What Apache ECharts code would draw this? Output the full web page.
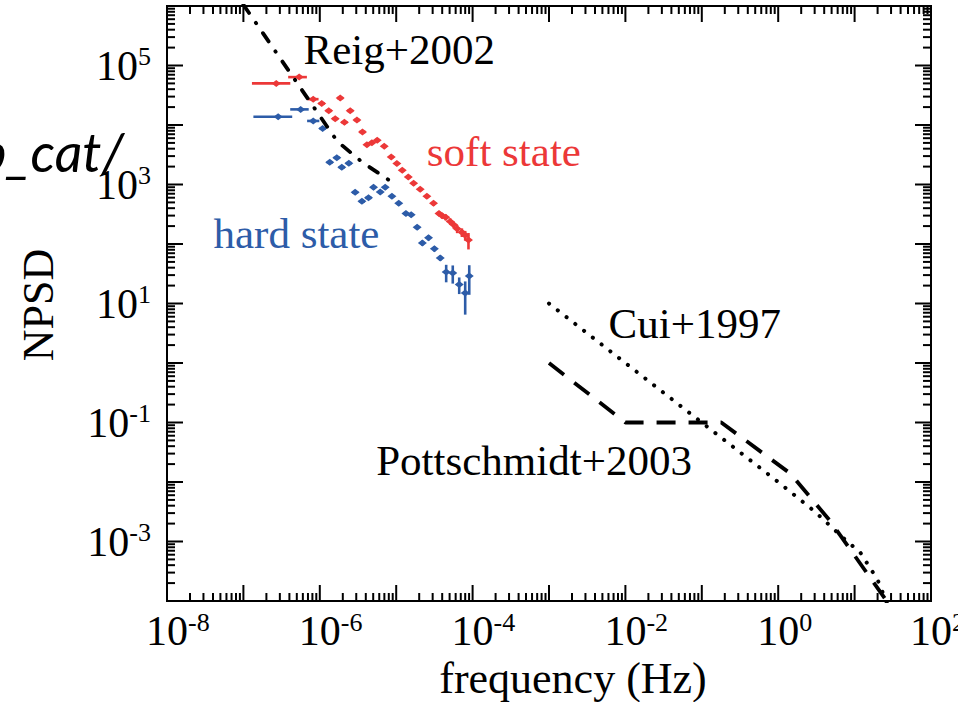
<!DOCTYPE html>
<html>
<head>
<meta charset="utf-8">
<script src="https://cdn.jsdelivr.net/npm/echarts@6/dist/echarts.min.js"></script>
<style>html,body{margin:0;padding:0;background:#fff}#c{width:958px;height:702px}</style>
</head>
<body>
<div id="c"></div>
<script>
// ---------------- data ----------------
// axis tick labels (exponents of 10 that carry a label)
const xTickExps = [-8, -6, -4, -2, 0, 2];
const yTickExps = [-3, -1, 1, 3, 5];
const xDecades = [-8, -7, -6, -5, -4, -3, -2, -1, 0, 1, 2];
const yDecades = [-4, -3, -2, -1, 0, 1, 2, 3, 4, 5, 6];
const minorMultipliers = [2, 3, 4, 5, 6, 7, 8, 9];

// soft state (red): frequency (Hz), NPSD, freq bin half-widths (dex, low/high), NPSD error (linear)
const softFreq = [2.69e-7, 5.37e-7, 8.2e-7, 1.06e-6, 1.31e-6, 1.59e-6, 1.85e-6, 2.10e-6, 2.50e-6, 3.06e-6,
  3.62e-6, 4.14e-6, 4.81e-6, 5.64e-6, 6.97e-6, 8.61e-6, 1.02e-5, 1.20e-5, 1.44e-5, 1.69e-5,
  2.06e-5, 2.52e-5, 3.08e-5, 3.63e-5, 4.0e-5, 4.45e-5, 5.09e-5, 5.66e-5, 6.28e-5, 7.24e-5, 8.0e-5, 8.83e-5];
const softNpsd = [5.0e4, 6.38e4, 2.72e4, 2.30e4, 1.73e4, 1.27e4, 2.83e4, 1.11e4, 1.73e4, 1.21e4,
  7.65e3, 4.66e3, 5.04e3, 5.55e3, 4.40e3, 2.90e3, 2.25e3, 1.73e3, 1.34e3, 1.05e3,
  830, 633, 483, 327, 297, 281, 240, 210, 180, 157, 140, 117];
const softDfLo = [0.318, 0.144, 0.07, 0.04, 0.04, 0.04, 0.04, 0.04, 0.04, 0.04,
  0.04, 0.03, 0.03, 0.03, 0.03, 0.03, 0.03, 0.03, 0.03, 0.03,
  0.03, 0.03, 0.03, 0.03, 0.03, 0.03, 0.03, 0.03, 0.03, 0.02, 0.02, 0.02];
const softDfHi = [0.184, 0.101, 0.07, 0.04, 0.04, 0.04, 0.04, 0.04, 0.04, 0.04,
  0.04, 0.03, 0.03, 0.03, 0.03, 0.03, 0.03, 0.03, 0.03, 0.03,
  0.03, 0.03, 0.03, 0.03, 0.03, 0.03, 0.03, 0.03, 0.03, 0.02, 0.02, 0.02];
const softErr = [0, 0, 2000, 1800, 1400, 1000, 2200, 900, 1400, 1000,
  600, 380, 400, 450, 350, 230, 180, 140, 110, 85,
  70, 55, 42, 30, 30, 32, 30, 28, 28, 26, 26, 36];

// hard state (blue)
const hardFreq = [2.85e-7, 5.62e-7, 8.2e-7, 1.09e-6, 1.35e-6, 1.67e-6, 1.94e-6, 2.40e-6, 2.90e-6, 3.56e-6,
  4.34e-6, 5.05e-6, 6.18e-6, 7.18e-6, 8.79e-6, 1.08e-5, 1.34e-5, 1.57e-5, 1.88e-5, 2.20e-5,
  2.65e-5, 3.16e-5, 3.77e-5, 4.51e-5, 5.5e-5, 6.68e-5, 8.0e-5, 9.04e-5];
const hardNpsd = [1.38e4, 1.83e4, 1.17e4, 8.73e3, 2.36e3, 2.81e3, 1.95e3, 2.28e3, 739, 521,
  597, 897, 748, 897, 633, 483, 324, 309, 192, 104,
  127, 83, 58, 33.7, 32.6, 20.9, 15.0, 29.0];
const hardDfLo = [0.324, 0.137, 0.08, 0.04, 0.04, 0.04, 0.04, 0.04, 0.04, 0.04,
  0.04, 0.03, 0.03, 0.03, 0.03, 0.03, 0.03, 0.03, 0.03, 0.03,
  0.03, 0.03, 0.03, 0.02, 0.02, 0.02, 0.02, 0.02];
const hardDfHi = [0.184, 0.105, 0.08, 0.04, 0.04, 0.04, 0.04, 0.04, 0.04, 0.04,
  0.04, 0.03, 0.03, 0.03, 0.03, 0.03, 0.03, 0.03, 0.03, 0.03,
  0.03, 0.03, 0.03, 0.02, 0.02, 0.02, 0.02, 0.02];
const hardErr = [0, 0, 900, 700, 190, 220, 160, 180, 60, 42,
  48, 72, 60, 72, 50, 40, 27, 26, 17, 10,
  12, 8, 6, 11, 11, 6.5, 8.5, 15];

// model curves
const reigFreq = [1.0e-7, 5.06e-7, 1.69e-6, 3.59e-6, 8.87e-6];
const reigNpsd = [1.05e6, 5.06e4, 5.33e3, 2.37e3, 1.09e3];
const cuiFreq = [1.0e-3, 1.0, 3.0, 7.1, 11.9, 19.9, 25.1, 31.6];
const cuiNpsd = [10, 1.0e-2, 3.2e-3, 1.15e-3, 6.5e-4, 2.3e-4, 1.1e-4, 5.4e-5];
const pottFreq = [1.0e-3, 1.0e-2, 0.18, 1.45, 4.8, 26.3, 32.0];
const pottNpsd = [1.0, 0.1, 0.1, 1.38e-2, 2.2e-3, 1.0e-4, 6.0e-5];

// annotations: text, anchor frequency, anchor NPSD (left / vertical middle)
const annoText = ['Reig+2002', 'soft state', 'hard state', 'Cui+1997', 'Pottschmidt+2003'];
const annoFreq = [6.12e-7, 2.52e-5, 4.06e-8, 6.01e-3, 5.47e-6];
const annoNpsd = [1.89e5, 3.62e3, 153, 4.66, 0.0234];

// ---------------- chart ----------------
const RED = '#EC3838', BLUE = '#2D5CA8';
const SERIF = "'Liberation Serif', 'Times New Roman', serif";
const chart = echarts.init(document.getElementById('c'), null, {renderer: 'svg'});

function pairs(a, b) { return a.map((v, i) => [v, b[i]]); }
function pointData(f, v, lo, hi, e) { return f.map((x, i) => [x, v[i], lo[i], hi[i], e[i]]); }

function renderPoint(color) {
  return function (params, api) {
    const f = api.value(0), v = api.value(1), dlo = api.value(2), dhi = api.value(3), sig = api.value(4);
    const cs = params.coordSys;
    const c = api.coord([f, v]);
    const l = api.coord([f / Math.pow(10, dlo), v]);
    const r = api.coord([f * Math.pow(10, dhi), v]);
    const st = {stroke: color, lineWidth: 2.6};
    const children = [];
    children.push({type: 'line', shape: {x1: l[0], y1: c[1], x2: r[0], y2: c[1]}, style: st});
    if (sig > 0) {
      const t = api.coord([f, v + sig]);
      const lowV = v - sig;
      const b = lowV > 0 ? api.coord([f, lowV]) : [c[0], cs.y + cs.height];
      children.push({type: 'line', shape: {x1: c[0], y1: t[1], x2: c[0], y2: b[1]}, style: st});
    }
    children.push({type: 'polygon', shape: {points: [[c[0] - 4.5, c[1]], [c[0], c[1] - 3.5], [c[0] + 4.5, c[1]], [c[0], c[1] + 3.5]]},
      style: {fill: color}});
    return {type: 'group', children};
  };
}

// tick marks (log major + minor) drawn on all four sides
const tickData = [];
xDecades.forEach(d => {
  tickData.push([Math.pow(10, d), 1, 0, 16]);
  if (d < 2) minorMultipliers.forEach(m => tickData.push([m * Math.pow(10, d), 1, 0, 8]));
});
yDecades.forEach(d => {
  tickData.push([1, Math.pow(10, d), 1, 16]);
  if (d < 6) minorMultipliers.forEach(m => tickData.push([1, m * Math.pow(10, d), 1, 8]));
});
function renderTick(params, api) {
  const cs = params.coordSys;
  const kind = api.value(2), len = api.value(3);
  const p = api.coord([api.value(0), api.value(1)]);
  const st = {stroke: '#000', lineWidth: 2};
  if (kind === 0) {
    const x = p[0], yb = cs.y + cs.height, yt = cs.y;
    return {type: 'group', children: [
      {type: 'line', shape: {x1: x, y1: yb, x2: x, y2: yb - len}, style: st},
      {type: 'line', shape: {x1: x, y1: yt, x2: x, y2: yt + len}, style: st}]};
  }
  const y = p[1], xl = cs.x, xr = cs.x + cs.width;
  return {type: 'group', children: [
    {type: 'line', shape: {x1: xl, y1: y, x2: xl + len, y2: y}, style: st},
    {type: 'line', shape: {x1: xr, y1: y, x2: xr - len, y2: y}, style: st}]};
}

const richLabel = {
  b: {fontFamily: SERIF, fontSize: 42, fill: '#000', color: '#000', lineHeight: 44},
  s: {fontFamily: SERIF, fontSize: 26, fill: '#000', color: '#000', verticalAlign: 'top', lineHeight: 44},
  sp: {fontFamily: SERIF, fontSize: 26, fill: 'rgba(0,0,0,0)', color: 'rgba(0,0,0,0)', lineHeight: 44}
};

// x tick labels: "10" centred on the tick, exponent hanging to the right
const xLabelData = xTickExps.map(e => [Math.pow(10, e), 1e-4, e]);
function renderXLabel(params, api) {
  const cs = params.coordSys;
  const e = api.value(2);
  const p = api.coord([api.value(0), api.value(1)]);
  return {type: 'text', x: p[0], y: cs.y + cs.height + 8,
    style: {text: '{sp|' + e + '}{b|10}{s|' + e + '}', rich: richLabel, align: 'center', verticalAlign: 'top'}};
}
function expOf(v) { return Math.round(Math.log10(v)); }

chart.setOption({
  animation: false,
  backgroundColor: '#fff',
  grid: {left: 167, right: 27, top: 6, bottom: 101, show: true, borderColor: '#000', borderWidth: 2, backgroundColor: 'transparent'},
  xAxis: {
    type: 'log', logBase: 10, min: 1e-8, max: 1e2, splitNumber: 10,
    axisLine: {show: true, lineStyle: {color: '#000', width: 2}},
    axisTick: {show: false}, splitLine: {show: false}, minorTick: {show: false},
    axisLabel: {show: false}
  },
  yAxis: {
    type: 'log', logBase: 10, min: 1e-4, max: 1e6, splitNumber: 10,
    axisLine: {show: true, lineStyle: {color: '#000', width: 2}},
    axisTick: {show: false}, splitLine: {show: false}, minorTick: {show: false},
    axisLabel: {
      margin: 16, color: '#000', rich: richLabel,
      formatter: v => { const e = expOf(v); return yTickExps.includes(e) ? '{b|10}{s|' + e + '}' : ''; }
    }
  },
  series: [
    {type: 'custom', name: 'ticks', renderItem: renderTick, data: tickData, silent: true, z: 5},
    {type: 'custom', name: 'xlabels', renderItem: renderXLabel, data: xLabelData, silent: true, z: 5},
    {type: 'custom', name: 'soft state', renderItem: renderPoint(RED), data: pointData(softFreq, softNpsd, softDfLo, softDfHi, softErr), z: 2},
    {type: 'custom', name: 'hard state', renderItem: renderPoint(BLUE), data: pointData(hardFreq, hardNpsd, hardDfLo, hardDfHi, hardErr), z: 2},
    {type: 'line', name: 'Reig+2002', data: pairs(reigFreq, reigNpsd), showSymbol: false, clip: true, z: 3,
      lineStyle: {color: '#000', width: 3.8, type: [10, 12, 0.5, 12], cap: 'round'}},
    {type: 'line', name: 'Cui+1997', data: pairs(cuiFreq, cuiNpsd), showSymbol: false, clip: true, z: 3,
      lineStyle: {color: '#000', width: 4, type: [0.1, 11], cap: 'round'}},
    {type: 'line', name: 'Pottschmidt+2003', data: pairs(pottFreq, pottNpsd), showSymbol: false, clip: true, z: 3,
      lineStyle: {color: '#000', width: 3.8, type: [19, 13], cap: 'butt'}}
  ]
});

// text placed from data-space anchors
const annoColor = ['#000', RED, BLUE, '#000', '#000'];
const graphics = annoText.map((t, i) => {
  const p = chart.convertToPixel({gridIndex: 0}, [annoFreq[i], annoNpsd[i]]);
  return {type: 'text', x: p[0], y: p[1], z: 10,
    style: {text: t, fill: annoColor[i], fontFamily: SERIF, fontSize: 43, align: 'left', verticalAlign: 'middle'}};
});
graphics.push({type: 'text', x: 573, y: 678, z: 10,
  style: {text: 'frequency (Hz)', fill: '#000', fontFamily: SERIF, fontSize: 44, align: 'center', verticalAlign: 'middle'}});
graphics.push({type: 'text', x: 38, y: 305, rotation: Math.PI / 2, z: 10,
  style: {text: 'NPSD', fill: '#000', fontFamily: SERIF, fontSize: 44, align: 'center', verticalAlign: 'middle'}});
graphics.push({type: 'text', x: 124, y: 151, z: 10,
  style: {text: 'p_cat/', fill: '#000', fontFamily: "Lato, 'Open Sans', sans-serif", fontStyle: 'italic', fontSize: 54, align: 'right', verticalAlign: 'middle'}});
chart.setOption({graphic: graphics});
</script>
</body>
</html>
